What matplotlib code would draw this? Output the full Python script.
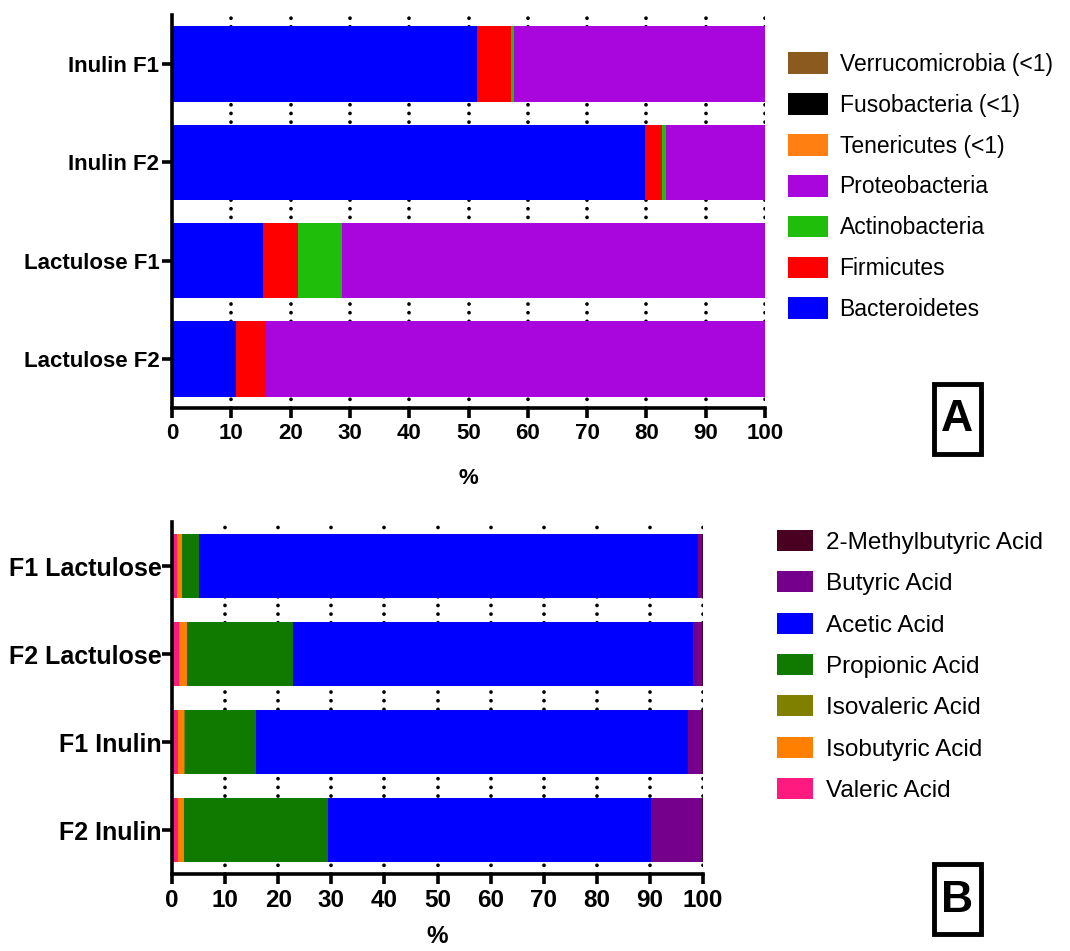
import matplotlib
matplotlib.use("Agg")
import numpy as np
import matplotlib.pyplot as plt
from matplotlib.patches import Patch, Rectangle

plt.rcParams["font.family"] = ["Liberation Sans", "DejaVu Sans"]

# ---- panel A: phyla (%), stacked left to right ----
samples_a = ["Inulin F1", "Inulin F2", "Lactulose F1", "Lactulose F2"]
phyla = ["Bacteroidetes", "Firmicutes", "Actinobacteria", "Proteobacteria",
         "Tenericutes (<1)", "Fusobacteria (<1)", "Verrucomicrobia (<1)"]
bacteroidetes = [51.5, 79.7, 15.4, 10.8]
firmicutes = [5.6, 3.0, 5.8, 4.8]
actinobacteria = [0.6, 0.6, 7.5, 0.0]
proteobacteria = [42.3, 16.7, 71.3, 84.4]
tenericutes = [0.0, 0.0, 0.0, 0.0]
fusobacteria = [0.0, 0.0, 0.0, 0.0]
verrucomicrobia = [0.0, 0.0, 0.0, 0.0]
colors_a = ["#0000ff", "#ff0000", "#1ebe0a", "#a906dd",
            "#ff8010", "#000000", "#8b5a1e"]

# ---- panel B: short chain fatty acids (%) ----
samples_b = ["F1 Lactulose", "F2 Lactulose", "F1 Inulin", "F2 Inulin"]
acids = ["Valeric Acid", "Isobutyric Acid", "Isovaleric Acid", "Propionic Acid",
         "Acetic Acid", "Butyric Acid", "2-Methylbutyric Acid"]
valeric = [1.0, 1.3, 1.1, 1.1]
isobutyric = [0.8, 1.5, 1.2, 1.1]
isovaleric = [0.1, 0.1, 0.1, 0.1]
propionic = [3.2, 19.8, 13.4, 27.0]
acetic = [93.9, 75.4, 81.3, 60.9]
butyric = [0.8, 1.8, 2.8, 9.7]
methylbutyric = [0.2, 0.1, 0.1, 0.1]
colors_b = ["#ff1a80", "#ff8000", "#7f7f00", "#107a00",
            "#0000ff", "#74008c", "#4a0021"]

fig = plt.figure(figsize=(10.7, 9.51), dpi=100)


def style_axis(ax, labels, tick_fs, x_fs, ypad, xlabelpad):
    ax.set_xlim(0, 100)
    ax.set_ylim(len(labels) - 0.5, -0.5)
    ax.set_yticks(range(len(labels)))
    ax.set_yticklabels(labels, fontsize=tick_fs, fontweight="bold")
    ax.set_xticks(np.arange(0, 101, 10))
    ax.set_xticklabels([str(v) for v in range(0, 101, 10)],
                       fontsize=x_fs, fontweight="bold")
    for s in ["top", "right"]:
        ax.spines[s].set_visible(False)
    for s in ["left", "bottom"]:
        ax.spines[s].set_linewidth(2.6)
    ax.tick_params(axis="both", width=2.6, length=7)
    ax.tick_params(axis="x", pad=4)
    ax.tick_params(axis="y", pad=ypad)
    for xv in range(10, 101, 10):
        ax.axvline(xv, color="black", lw=2.7, ls=(0, (0.01, 2.3)),
                   dash_capstyle="round", zorder=0)
    ax.set_xlabel("%", fontsize=x_fs, fontweight="bold", labelpad=xlabelpad)


def stack(ax, labels, series, colors, height):
    y = np.arange(len(labels))
    left = np.zeros(len(labels))
    for vals, c in zip(series, colors):
        vals = np.array(vals, dtype=float)
        ax.barh(y, vals, left=left, height=height, color=c, zorder=2,
                edgecolor="none")
        left += vals


ax_a = fig.add_axes([172 / 1070, 1 - 408 / 951, 593 / 1070, 393 / 951])
stack(ax_a, samples_a,
      [bacteroidetes, firmicutes, actinobacteria, proteobacteria,
       tenericutes, fusobacteria, verrucomicrobia], colors_a, 0.77)
style_axis(ax_a, samples_a, 16, 16, 2, 17)

handles_a = [Patch(facecolor=c, edgecolor="none", label=n)
             for n, c in zip(phyla, colors_a)][::-1]
fig.legend(handles=handles_a, loc="upper left",
           bbox_to_anchor=(788 / 1070, 1 - 52 / 951), frameon=False,
           fontsize=16.5, borderpad=0, borderaxespad=0, handlelength=1.75,
           handleheight=1.09, handletextpad=0.5, labelspacing=0.75)

ax_b = fig.add_axes([172 / 1070, 1 - 874 / 951, 531 / 1070, 352 / 951])
stack(ax_b, samples_b,
      [valeric, isobutyric, isovaleric, propionic, acetic, butyric,
       methylbutyric], colors_b, 0.72)
style_axis(ax_b, samples_b, 18, 17.5, 0.5, 9)

handles_b = [Patch(facecolor=c, edgecolor="none", label=n)
             for n, c in zip(acids, colors_b)][::-1]
fig.legend(handles=handles_b, loc="upper left",
           bbox_to_anchor=(777 / 1070, 1 - 530 / 951), frameon=False,
           fontsize=17.5, borderpad=0, borderaxespad=0, handlelength=1.48,
           handleheight=0.95, handletextpad=0.53, labelspacing=0.72)

# panel letters in boxes
for letter, top, cy in [("A", 384, 420), ("B", 864, 900)]:
    fig.patches.append(Rectangle((934 / 1070, 1 - (top + 70) / 951),
                                 47 / 1070, 70 / 951, transform=fig.transFigure,
                                 fill=False, lw=3.5, edgecolor="black"))
    fig.text(957 / 1070, 1 - cy / 951, letter, fontsize=32, fontweight="bold",
             ha="center", va="center")

fig.savefig("out.png", dpi=100)
